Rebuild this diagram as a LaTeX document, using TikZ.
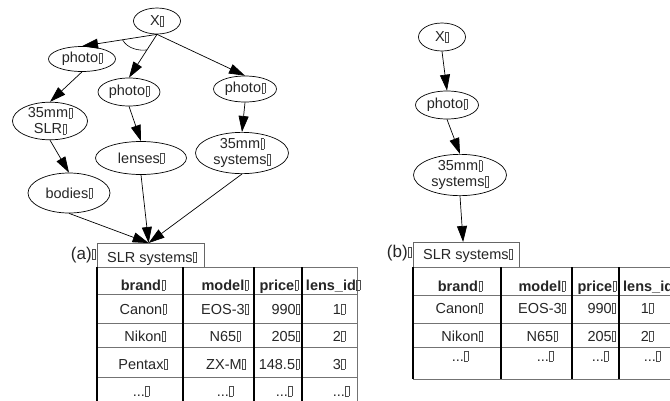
\documentclass[tikz,border=0pt]{standalone}
\usepackage{fontspec}
\setmainfont{Liberation Sans}
\usetikzlibrary{shapes.geometric,arrows.meta,calc}
\newcommand\tf{\kern0.5pt{\color{black!70}\fboxsep=0pt\fboxrule=0.4pt\fbox{\rule{0pt}{9.8pt}\kern2.8pt}}}
\begin{document}
\begin{tikzpicture}[x=1pt,y=-1pt,
  every node/.style={font=\fontsize{14.5}{16}\selectfont, text=black!85},
  el/.style={draw, ellipse, inner sep=0pt, line width=0.7pt, align=center},
  arr/.style={-{Triangle[length=16pt,width=10pt]}, line width=0.7pt},
  hl/.style={draw=black!55, line width=0.6pt},
  vl/.style={draw=black, line width=1.1pt},
  boxst/.style={draw=black!60, line width=0.6pt, inner sep=0pt, anchor=north west},
  cell/.style={anchor=base, inner sep=0pt},
  cellr/.style={anchor=base east, inner sep=0pt},
  celll/.style={anchor=base west, inner sep=0pt},
  lab/.style={anchor=base east, inner sep=0pt, font=\fontsize{17}{18}\selectfont},
  hd/.style={anchor=base, inner sep=0pt, font=\fontsize{14.5}{16}\selectfont\bfseries},
  hdl/.style={anchor=base west, inner sep=0pt, font=\fontsize{14.5}{16}\selectfont\bfseries}]
\useasboundingbox (0,0) rectangle (670,400);
\clip (0,0) rectangle (670,400);
\fill[white] (0,0) rectangle (670,400);

% ---------- graph (a)
\node[el, minimum width=47pt, minimum height=26pt] (xa) at (157,21) {X\tf};
\node[el, minimum width=67pt, minimum height=25pt] (pl) at (82,59) {photo\tf};
\node[el, minimum width=62pt, minimum height=28pt] (pm) at (129,92) {photo\tf};
\node[el, minimum width=63pt, minimum height=26pt] (pr) at (245,89) {photo\tf};
\node[el, minimum width=75pt, minimum height=36pt] (slr) at (50,121) {35mm\tf\\SLR\tf};
\node[el, minimum width=91pt, minimum height=33pt] (len) at (141,158) {lenses\tf};
\node[el, minimum width=93pt, minimum height=37pt] (sys) at (242,153) {35mm\tf\\systems\tf};
\node[el, minimum width=82pt, minimum height=40pt] (bod) at (69,193) {bodies\tf};

\node[boxst, minimum width=107pt, minimum height=24pt] (boxa) at (97,243) {};
\node[celll] (boxat) at (107,262) {SLR systems\tf};
\node[lab] (laba) at (96,259) {(a)\tf};
\coordinate (ina) at ($(boxa.north west)!0.48!(boxa.north east)$);

\draw[arr] (xa.south) -- (pl.north);
\draw[arr] (xa.south) -- (pm.north);
\draw[arr] (xa.south) -- (pr.north);
\draw[arr] (pl.south) -- (slr.north);
\draw[arr] (pm.south) -- (len.north);
\draw[arr] (pr.south) -- (sys.north);
\draw[arr] (slr.south) -- (bod.north);
\draw[arr] (bod.south) -- (ina);
\draw[arr] (len.south) -- (ina);
\draw[arr] (sys.south) -- (ina);
\coordinate (arcl) at ($(xa.south)!0.46!(pl.north)$);
\coordinate (arcr) at ($(xa.south)!0.36!(pm.north)$);
\draw[line width=0.6pt] (arcl) .. controls +(5,9) and +(-8,1) .. (arcr);

% ---------- table (a)
\foreach \yy in {267,294,323,347,377} \draw[hl] (97,\yy) -- (357,\yy);
\draw[hl] (357,267) -- (357,405);
\foreach \xx in {97,183,254,302} \draw[vl] (\xx,267) -- (\xx,405);

\node[hd] (a01) at (143,290) {brand\tf};
\node[hd] (a02) at (225,290) {model\tf};
\node[hd] (a03) at (279,290) {price\tf};
\node[hd] (a04) at (333,290) {lens\_id\tf};
\node[cell] (a11) at (143,314) {Canon\tf};
\node[cell] (a12) at (225,314) {EOS-3\tf};
\node[cellr] (a13) at (300,314) {990\tf};
\node[cell] (a14) at (339,314) {1\tf};
\node[cell] (a21) at (145,341) {Nikon\tf};
\node[cell] (a22) at (225,341) {N65\tf};
\node[cellr] (a23) at (300,341) {205\tf};
\node[cell] (a24) at (339,341) {2\tf};
\node[cell] (a31) at (143,369) {Pentax\tf};
\node[cell] (a32) at (226,369) {ZX-M\tf};
\node[cell] (a33) at (279,369) {148.5\tf};
\node[cell] (a34) at (339,369) {3\tf};
\node[cell] (a41) at (141,396) {...\tf};
\node[cell] (a42) at (225,396) {...\tf};
\node[cell] (a43) at (284,396) {...\tf};
\node[cell] (a44) at (341,396) {...\tf};

% ---------- graph (b)
\node[el, minimum width=47pt, minimum height=28pt] (xb) at (442,37) {X\tf};
\node[el, minimum width=63pt, minimum height=28pt] (pb) at (447,105) {photo\tf};
\node[el, minimum width=93pt, minimum height=36pt] (sb) at (460,175) {35mm\tf\\systems\tf};
\node[boxst, minimum width=106pt, minimum height=25pt] (boxb) at (413,242) {};
\node[celll] (boxbt) at (423,259) {SLR systems\tf};
\node[lab] (labb) at (412,257) {(b)\tf};
\coordinate (inb) at ($(boxb.north west)!0.47!(boxb.north east)$);
\draw[arr] (xb.south) -- (pb.north);
\draw[arr] (pb.south) -- (sb.north);
\draw[arr] (sb.south) -- (inb);

% ---------- table (b)
\foreach \yy in {267,295,323,347,379} \draw[hl] (413,\yy) -- (680,\yy);
\foreach \xx in {413,501,572,619} \draw[vl] (\xx,267) -- (\xx,379);

\node[hd] (b01) at (460,291) {brand\tf};
\node[hd] (b02) at (542,291) {model\tf};
\node[hd] (b03) at (597,291) {price\tf};
\node[hdl] (b04) at (623,291) {lens\_id\tf};
\node[cell] (b11) at (459,313) {Canon\tf};
\node[cell] (b12) at (542,313) {EOS-3\tf};
\node[cellr] (b13) at (616,313) {990\tf};
\node[cell] (b14) at (647,313) {1\tf};
\node[cell] (b21) at (462,341) {Nikon\tf};
\node[cell] (b22) at (542,341) {N65\tf};
\node[cellr] (b23) at (616,341) {205\tf};
\node[cell] (b24) at (647,341) {2\tf};
\node[cell] (b31) at (460,361) {...\tf};
\node[cell] (b32) at (545,361) {...\tf};
\node[cell] (b33) at (600,361) {...\tf};
\node[cell] (b34) at (652,361) {...\tf};
\end{tikzpicture}
\end{document}
